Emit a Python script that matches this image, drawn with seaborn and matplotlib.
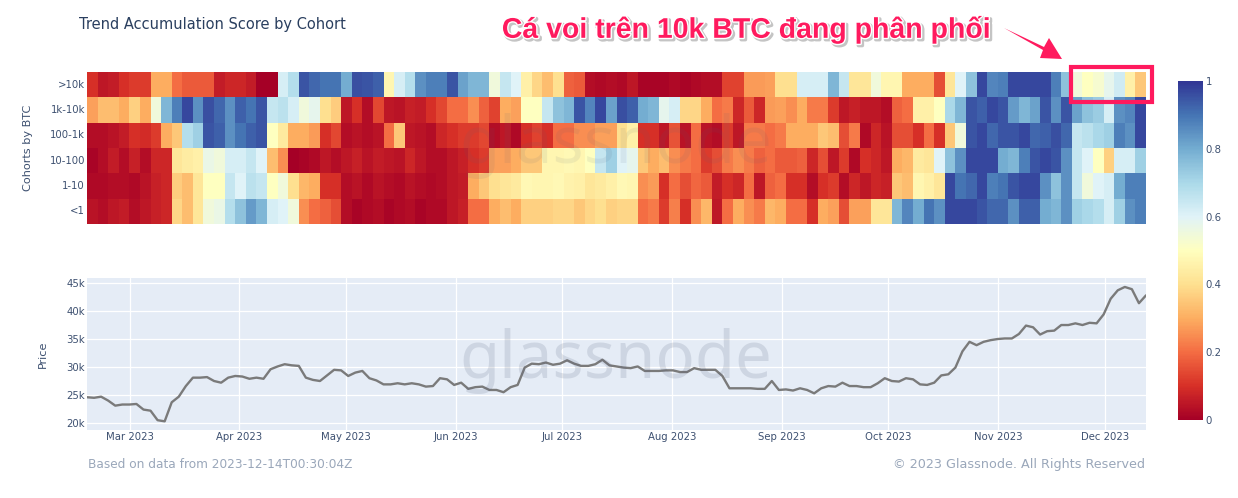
import matplotlib
matplotlib.use("Agg")
import matplotlib.pyplot as plt
import matplotlib.patheffects as pe
from matplotlib.patches import Rectangle, Polygon
import numpy as np
import pandas as pd
import seaborn as sns

W, H = 1238, 498
cohorts = [">10k", "1k-10k", "100-1k", "10-100", "1-10", "<1"]
score_gt10k = [.1,.05,.06,.1,.12,.12,.3,.3,.2,.17,.17,.17,.06,.08,.08,.06,0,0,.62,.68,.95,.92,.9,.9,.8,.96,.95,.93,.47,.62,.68,.85,.88,
 .88,.95,.82,.78,.78,.55,.65,.6,.45,.38,.33,.4,.18,.17,.03,.02,.03,.02,.05,.01,.01,.01,.02,.01,.02,.03,.03,.13,.13,.27,.27,.28,.4,
 .4,.62,.62,.62,.78,.65,.42,.42,.55,.47,.47,.3,.3,.3,.15,.42,.6,.75,.97,.87,.88,.97,.97,.97,.97,.88,.75,.55,.5,.53,.58,.63,.45,.35]
score_1k = [.28,.33,.33,.3,.37,.3,.55,.78,.88,.97,.85,.96,.92,.85,.93,.9,.95,.65,.67,.62,.55,.58,.4,.36,.05,.1,.03,.14,.05,.04,.07,.06,.1,
 .14,.2,.2,.25,.18,.13,.3,.28,.5,.5,.65,.75,.78,.95,.87,.97,.82,.96,.93,.8,.78,.58,.62,.38,.38,.3,.2,.22,.08,.17,.08,.27,.28,
 .25,.3,.22,.22,.12,.05,.07,.05,.05,.03,.18,.2,.45,.45,.5,.7,.78,.95,.93,.97,.95,.83,.78,.82,.95,.85,.95,.82,.75,.73,.62,.85,.87,.97]
score_100 = [.03,.03,.04,.06,.1,.09,.12,.3,.35,.68,.72,.95,.93,.85,.9,.93,.95,.5,.43,.3,.3,.27,.1,.14,.03,.04,.03,.04,.2,.35,.05,.04,.03,
 .08,.1,.12,.12,.14,.03,.05,.02,.1,.13,.1,.2,.2,.25,.25,.28,.28,.4,.45,.1,.1,.05,.16,.04,.2,.04,.03,.12,.05,.22,.22,.2,.22,
 .3,.3,.3,.35,.33,.15,.22,.02,.08,.04,.15,.15,.1,.2,.1,.35,.55,.95,.97,.92,.95,.95,.97,.92,.93,.96,.92,.65,.67,.7,.72,.88,.85,.97]
score_10 = [.01,.03,.06,.03,.07,.03,.08,.08,.42,.44,.45,.57,.55,.62,.62,.65,.6,.33,.25,0,.01,.02,.05,.03,.05,.07,.04,.06,.05,.04,.08,.05,.03,
 .03,.05,.07,.1,.12,.28,.28,.3,.35,.35,.47,.47,.48,.47,.5,.65,.72,.6,.58,.35,.3,.33,.25,.22,.2,.12,.15,.22,.25,.22,.18,.2,.17,
 .17,.18,.08,.15,.05,.12,.02,.1,.08,.05,.3,.32,.43,.42,.6,.75,.85,.97,.97,.97,.8,.78,.88,.95,.97,.95,.85,.65,.6,.5,.37,.62,.62,.72]
score_1 = [.02,.02,.03,.03,.02,.04,.07,.08,.36,.33,.42,.5,.5,.65,.6,.67,.65,.5,.55,.4,.32,.3,.1,.1,.03,.04,.02,.04,.03,.02,.04,.03,.02,
 .03,.05,.06,.3,.35,.4,.42,.43,.48,.47,.47,.48,.46,.45,.42,.43,.45,.48,.47,.25,.27,.1,.2,.15,.19,.17,.06,.1,.08,.2,.05,.18,.2,
 .1,.1,.03,.1,.12,.03,.08,.05,.08,.07,.35,.33,.47,.45,.42,.97,.9,.92,.97,.88,.9,.95,.97,.97,.85,.75,.85,.65,.55,.6,.62,.8,.88,.88]
score_lt1 = [.04,.03,.05,.06,.03,.05,.07,.08,.38,.33,.42,.55,.57,.68,.75,.83,.78,.62,.6,.55,.25,.2,.18,.15,.03,.01,.02,.03,.01,.02,.03,.01,.02,
 .02,.05,.07,.2,.2,.3,.33,.3,.37,.37,.37,.38,.38,.35,.38,.4,.37,.38,.38,.2,.22,.12,.23,.1,.25,.32,.05,.2,.3,.25,.22,.32,.3,
 .2,.2,.1,.3,.28,.15,.28,.28,.42,.42,.78,.87,.8,.9,.85,.97,.97,.97,.95,.92,.92,.85,.93,.93,.8,.78,.85,.72,.7,.68,.62,.72,.85,.88]
price_k = [24.6,24.5,24.7,24.0,23.1,23.3,23.3,23.4,22.4,22.2,20.5,20.3,23.7,24.7,26.6,28.1,28.1,28.2,27.5,27.2,28.1,28.4,28.3,27.9,28.1,27.9,
 29.6,30.1,30.5,30.3,30.2,28.1,27.7,27.5,28.5,29.5,29.4,28.4,29.0,29.3,28.0,27.6,26.9,26.9,27.1,26.9,27.1,26.9,26.5,26.6,28.0,27.8,26.8,27.2,
 26.1,26.4,26.5,25.9,25.9,25.5,26.4,26.8,29.9,30.6,30.5,30.8,30.4,30.6,31.2,30.6,30.2,30.2,30.5,31.3,30.3,30.1,29.9,29.8,30.1,29.3,29.3,29.3,
 29.4,29.4,29.1,29.1,29.8,29.5,29.5,29.5,28.4,26.2,26.2,26.2,26.2,26.1,26.1,27.5,25.9,26.0,25.8,26.2,25.9,25.3,26.2,26.6,26.5,27.2,26.6,26.6,
 26.4,26.4,27.1,28.0,27.5,27.4,28.0,27.8,26.9,26.8,27.2,28.5,28.7,29.9,32.8,34.5,33.9,34.5,34.8,35.0,35.1,35.1,35.9,37.4,37.1,35.8,36.4,36.5,
 37.5,37.5,37.8,37.5,37.9,37.8,39.4,42.2,43.7,44.3,43.9,41.4,42.8]
month_labels = ["Mar 2023","Apr 2023","May 2023","Jun 2023","Jul 2023","Aug 2023","Sep 2023","Oct 2023","Nov 2023","Dec 2023"]
price_ticks = [20, 25, 30, 35, 40, 45]
cbar_ticks = [0, .2, .4, .6, .8, 1]

title_text = "Trend Accumulation Score by Cohort"
note_text = "Cá voi trên 10k BTC đang phân phối"
source_text = "Based on data from 2023-12-14T00:30:04Z"
copy_text = "© 2023 Glassnode. All Rights Reserved"

INK = "#2a3f5f"; TICK = "#3d5070"; MUTED = "#9aa7ba"; PINK = "#ff1a5e"
START = pd.Timestamp("2023-02-17")
END = pd.Timestamp("2023-12-12 16:00")

def box(l, t, r, b):
    return [l / W, 1 - b / H, (r - l) / W, (b - t) / H]

sns.set_theme(style="white")
plt.rcParams["font.family"] = ["DejaVu Sans"]
fig = plt.figure(figsize=(W / 100, H / 100), dpi=100, facecolor="white")
ax_h = fig.add_axes(box(87, 72, 1146, 224))
ax_p = fig.add_axes(box(87, 278, 1146, 430))
ax_c = fig.add_axes(box(1178, 81, 1203, 420))

matrix = pd.DataFrame([score_gt10k, score_1k, score_100, score_10, score_1, score_lt1], index=cohorts)
sns.heatmap(matrix, ax=ax_h, cbar_ax=ax_c, cmap="RdYlBu", vmin=0, vmax=1, xticklabels=False,
            yticklabels=cohorts, cbar_kws={"ticks": cbar_ticks})
ax_h.set_xlabel("")
ax_h.set_ylabel("Cohorts by BTC", fontsize=8.1, color=TICK, labelpad=0)
ax_h.yaxis.set_label_coords((33 - 87) / (1146 - 87), 0.5)
ax_h.tick_params(axis="y", length=0, labelsize=7.3, labelcolor=TICK, pad=1.5, labelrotation=0)

ax_c.tick_params(length=0, labelsize=7.3, labelcolor=TICK, pad=2)
ax_c.set_yticklabels(["0", "0.2", "0.4", "0.6", "0.8", "1"])

dates = pd.date_range(START, END, periods=len(price_k))
frame = pd.DataFrame({"date": dates, "price": price_k})
ax_p.set_facecolor("#e5ecf6")
sns.lineplot(data=frame, x="date", y="price", ax=ax_p, color="#7a7a7a", lw=1.7, zorder=4)
ax_p.set_xlim(START, END)
ax_p.set_ylim(18.75, 45.9)
ax_p.set_xticks(pd.date_range("2023-03-01", periods=len(month_labels), freq="MS"))
ax_p.set_xticklabels(month_labels)
ax_p.set_yticks(price_ticks)
ax_p.set_yticklabels([f"{v}k" for v in price_ticks])
ax_p.grid(True, color="white", lw=0.9)
ax_p.set_axisbelow(True)
ax_p.tick_params(length=0, labelsize=7.3, labelcolor=TICK, pad=1.5)
ax_p.set_xlabel("")
ax_p.set_ylabel("Price", fontsize=8.1, color=TICK)
ax_p.yaxis.set_label_coords((48 - 87) / (1146 - 87), 0.5)
for s in ax_p.spines.values():
    s.set_visible(False)

def fx(x): return x / W
def fy(y): return 1 - y / H

for base, alpha in [(378, 0.16), (163, 0.09)]:
    fig.text(fx(616), fy(base), "glassnode", ha="center", va="baseline", fontsize=47, family="Noto Sans",
             fontweight="bold", color="#55607a", alpha=alpha, zorder=3)

fig.text(fx(79), fy(25), title_text, ha="left", va="center", fontsize=10.55, color=INK)
fig.text(fx(88), fy(464), source_text, ha="left", va="center", fontsize=8.72, color=MUTED)
fig.text(fx(1145), fy(464), copy_text, ha="right", va="center", fontsize=9.2, color=MUTED)

fig.text(fx(746), fy(30), note_text, ha="center", va="center", fontsize=20.5, fontweight="bold",
         family="Liberation Sans", color=PINK, zorder=10,
         path_effects=[pe.Stroke(linewidth=2.6, foreground="#c4c4c4", offset=(1.3, -1.3)),
                       pe.Stroke(linewidth=2.0, foreground="white"), pe.Normal()])
arrow_px = [(1004, 28), (1044, 47), (1049, 38), (1062, 59), (1040, 58), (1043, 50)]
fig.add_artist(Polygon([(fx(x), fy(y)) for x, y in arrow_px], closed=True, transform=fig.transFigure,
                       fc=PINK, ec="none", zorder=10))
fig.add_artist(Rectangle((fx(1071), fy(102)), (1152 - 1071) / W, (102 - 67) / H, transform=fig.transFigure,
                         fill=False, ec=PINK, lw=3, zorder=10))

fig.savefig("out.png", dpi=100, facecolor="white")
